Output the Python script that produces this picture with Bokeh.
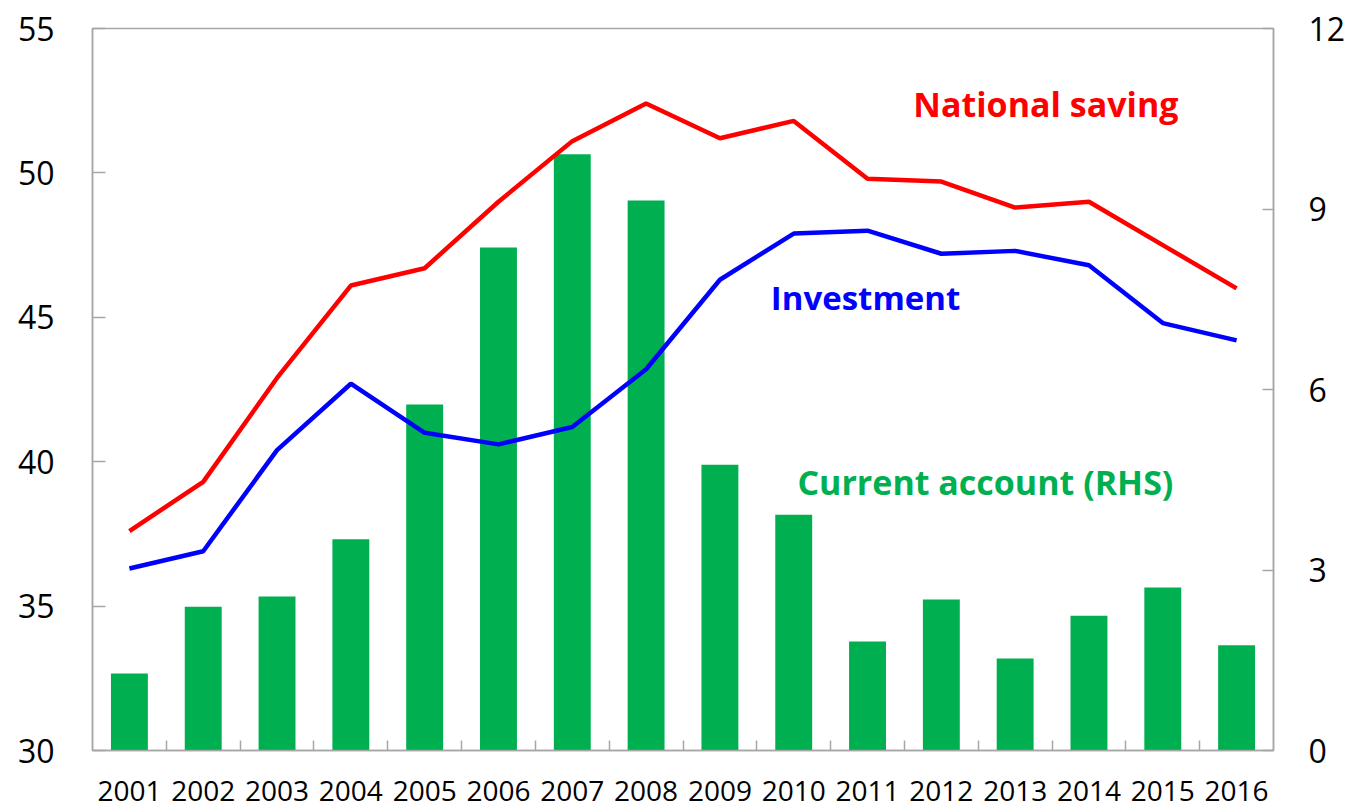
from bokeh.plotting import figure
from bokeh.models import Range1d, LinearAxis, FixedTicker, Label
from bokeh.embed import file_html
from bokeh.resources import INLINE

years = ["2001", "2002", "2003", "2004", "2005", "2006", "2007", "2008",
         "2009", "2010", "2011", "2012", "2013", "2014", "2015", "2016"]
national_saving = [37.6, 39.3, 42.9, 46.1, 46.7, 49.0, 51.1, 52.4,
                   51.2, 51.8, 49.8, 49.7, 48.8, 49.0, 47.5, 46.0]
investment = [36.3, 36.9, 40.4, 42.7, 41.0, 40.6, 41.2, 43.2,
              46.3, 47.9, 48.0, 47.2, 47.3, 46.8, 44.8, 44.2]
current_account = [1.28, 2.39, 2.56, 3.51, 5.75, 8.36, 9.91, 9.14,
                   4.75, 3.92, 1.81, 2.51, 1.53, 2.24, 2.71, 1.75]
left_ticks = [30, 35, 40, 45, 50, 55]
right_ticks = [0, 3, 6, 9, 12]

FONT = "Open Sans"
AXIS_COLOR = "#A6A6A6"

xs = list(range(1, len(years) + 1))
bounds = [i + 0.5 for i in range(1, len(years))]

p = figure(width=1355, height=808, output_backend="svg", toolbar_location=None,
           x_range=Range1d(0.5, len(years) + 0.5), y_range=Range1d(30, 55),
           min_border_left=92, min_border_top=28, min_border_right=82,
           min_border_bottom=58)
p.extra_y_ranges = {"ca": Range1d(0, 12)}
p.grid.visible = False
p.outline_line_color = AXIS_COLOR
p.outline_line_width = 1.5
p.background_fill_color = "white"
p.border_fill_color = "white"

p.vbar(x=xs, top=current_account, bottom=0, width=0.5, y_range_name="ca",
       fill_color="#00B050", line_color=None)
p.line(xs, national_saving, line_color="#FF0000", line_width=4.5)
p.line(xs, investment, line_color="#0000FF", line_width=4.5)

# x axis
xa = p.xaxis[0]
xa.ticker = FixedTicker(ticks=xs, minor_ticks=bounds)
xa.major_label_overrides = {i + 1: y for i, y in enumerate(years)}
xa.major_tick_in = 0
xa.major_tick_out = 0
xa.minor_tick_in = 10
xa.minor_tick_out = 0
xa.minor_tick_line_color = AXIS_COLOR
xa.minor_tick_line_width = 1.5
xa.axis_line_color = AXIS_COLOR
xa.axis_line_width = 1.5
xa.major_label_text_font = FONT
xa.major_label_text_font_size = "28px"
xa.major_label_text_color = "black"
xa.major_label_standoff = 30

# left axis
ya = p.yaxis[0]
ya.ticker = FixedTicker(ticks=left_ticks)
ya.major_tick_in = 13
ya.major_tick_out = 0
ya.minor_tick_in = 0
ya.minor_tick_out = 0
ya.major_tick_line_color = AXIS_COLOR
ya.major_tick_line_width = 1.5
ya.axis_line_color = AXIS_COLOR
ya.axis_line_width = 1.5
ya.major_label_text_font = FONT
ya.major_label_text_font_size = "32px"
ya.major_label_text_color = "black"
ya.major_label_standoff = 38

# right axis
ra = LinearAxis(y_range_name="ca", ticker=FixedTicker(ticks=right_ticks))
ra.major_tick_in = 11
ra.major_tick_out = 0
ra.minor_tick_in = 0
ra.minor_tick_out = 0
ra.major_tick_line_color = AXIS_COLOR
ra.major_tick_line_width = 1.5
ra.axis_line_color = AXIS_COLOR
ra.axis_line_width = 1.5
ra.major_label_text_font = FONT
ra.major_label_text_font_size = "32px"
ra.major_label_text_color = "black"
ra.major_label_standoff = 35
p.add_layout(ra, "right")

# series labels
p.add_layout(Label(x=11.62, y=52.37, text="National saving", text_color="#FF0000",
                   text_font=FONT, text_font_style="bold", text_font_size="34px",
                   text_baseline="alphabetic"))
p.add_layout(Label(x=9.69, y=45.7, text="Investment", text_color="#0000FF",
                   text_font=FONT, text_font_style="bold", text_font_size="33px",
                   text_baseline="alphabetic"))
p.add_layout(Label(x=10.05, y=39.3, text="Current account (RHS)", text_color="#00B050",
                   text_font=FONT, text_font_style="bold", text_font_size="34px",
                   text_baseline="alphabetic"))

open("out.html", "w").write(file_html(p, INLINE))
